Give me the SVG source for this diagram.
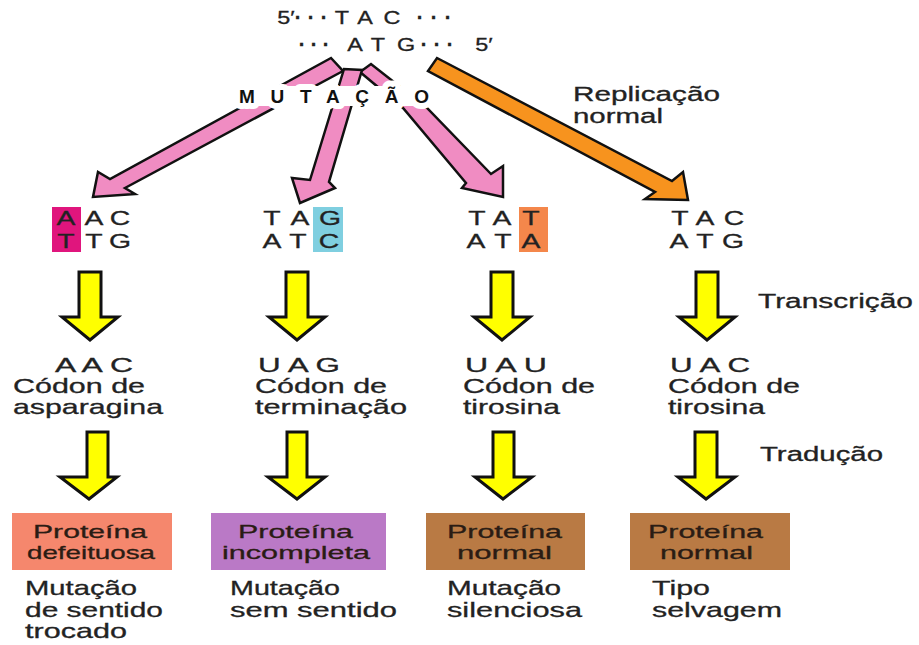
<svg xmlns="http://www.w3.org/2000/svg" width="919" height="645" viewBox="0 0 919 645">
<style>
text{font-family:"Liberation Sans",Arial,Helvetica,sans-serif;fill:#222;stroke:#222;stroke-width:0.3}
.top{font-size:18px;text-anchor:middle}
.dot{font-size:20px;font-weight:bold;text-anchor:middle}
.dna{font-size:21px;text-anchor:middle}
.cod{font-size:20px}
.lbl{font-size:21px}
.side{font-size:20px}
.bx{font-size:19px;fill:#2a1c14;stroke:#2a1c14}
.mut{font-size:19px;font-weight:bold;fill:#111;stroke:#fff;stroke-width:12;paint-order:stroke;stroke-linejoin:round}
.pink{fill:#f08cc2;stroke:#111;stroke-width:2.5;stroke-linejoin:miter}
.orange{fill:#f7931e;stroke:#111;stroke-width:2.5;stroke-linejoin:miter}
.yellow{fill:#ffff00;stroke:#111;stroke-width:3;stroke-linejoin:miter}
</style>
<rect width="919" height="645" fill="#fff"/>

<g id="connectors">
  <polygon class="pink" points="331,58 110,179 98,172 93,197 135,194 125,188 343,71"/>
  <polygon class="pink" points="360,72 403,108 466,183 462,188 503,197 503,166 491,174 427,108 371,64"/>
  <polygon class="pink" points="344,69 310,180 292,178 300,203 335,188 329,182 362,70"/>
  <polygon class="orange" points="437,58 672,181 683,172 688,200 645,199 655,192 428,71"/>
  <polygon class="yellow" points="79,272 101,272 101,317 118,317 90,340 62,317 79,317"/>
  <polygon class="yellow" points="286,272 308,272 308,317 325,317 297,340 269,317 286,317"/>
  <polygon class="yellow" points="491,272 513,272 513,317 530,317 502,340 474,317 491,317"/>
  <polygon class="yellow" points="696,272 718,272 718,317 735,317 707,340 679,317 696,317"/>
  <polygon class="yellow" points="87,432 108,432 108,477 117,477 89,499 60,477 87,477"/>
  <polygon class="yellow" points="287,432 307,432 307,477 325,477 297,499 268,477 287,477"/>
  <polygon class="yellow" points="493,432 514,432 514,477 532,477 503,499 475,477 493,477"/>
  <polygon class="yellow" points="695,432 717,432 717,477 735,477 706,499 678,477 695,477"/>
</g>

<g id="dna-original">
  <text class="top" transform="matrix(1.3 0 0 1 286 24)">5′</text>
  <text class="dot" x="298 311 324" y="24">···</text>
  <text class="top" transform="matrix(1.3 0 0 1 342 24)">T</text>
  <text class="top" transform="matrix(1.3 0 0 1 365 24)">A</text>
  <text class="top" transform="matrix(1.3 0 0 1 392 24)">C</text>
  <text class="dot" x="420 434 448" y="24">···</text>
  <text class="dot" x="302 314 326" y="51">···</text>
  <text class="top" transform="matrix(1.3 0 0 1 355 51)">A</text>
  <text class="top" transform="matrix(1.3 0 0 1 378 51)">T</text>
  <text class="top" transform="matrix(1.3 0 0 1 406 51)">G</text>
  <text class="dot" x="424 437 450" y="51">···</text>
  <text class="top" transform="matrix(1.3 0 0 1 484 51)">5′</text>
</g>

<g id="label-mutacao">
  <rect x="236" y="86" width="196" height="20" fill="#fff"/>
  <text class="mut" x="239" y="103" textLength="190" lengthAdjust="spacing">MUTAÇÃO</text>
</g>

<g id="label-replicacao">
  <text class="side" x="573" y="101" textLength="147" lengthAdjust="spacingAndGlyphs">Replicação</text>
  <text class="side" x="573" y="123" textLength="90" lengthAdjust="spacingAndGlyphs">normal</text>
</g>

<g id="dna-1">
  <rect x="52" y="207" width="29" height="45" fill="#e0157d"/>
  <text class="dna" transform="matrix(1.35 0 0 1 66 225)">A</text>
  <text class="dna" transform="matrix(1.35 0 0 1 94 225)">A</text>
  <text class="dna" transform="matrix(1.35 0 0 1 120 225)">C</text>
  <text class="dna" transform="matrix(1.35 0 0 1 66 248)">T</text>
  <text class="dna" transform="matrix(1.35 0 0 1 94 248)">T</text>
  <text class="dna" transform="matrix(1.35 0 0 1 120 248)">G</text>
</g>

<g id="dna-2">
  <rect x="313" y="207" width="30" height="45" fill="#7fcfe0"/>
  <text class="dna" transform="matrix(1.35 0 0 1 272 225)">T</text>
  <text class="dna" transform="matrix(1.35 0 0 1 300 225)">A</text>
  <text class="dna" transform="matrix(1.35 0 0 1 330 225)">G</text>
  <text class="dna" transform="matrix(1.35 0 0 1 272 248)">A</text>
  <text class="dna" transform="matrix(1.35 0 0 1 298 248)">T</text>
  <text class="dna" transform="matrix(1.35 0 0 1 329 248)">C</text>
</g>

<g id="dna-3">
  <rect x="519" y="207" width="29" height="45" fill="#f4874b"/>
  <text class="dna" transform="matrix(1.35 0 0 1 477 225)">T</text>
  <text class="dna" transform="matrix(1.35 0 0 1 502 225)">A</text>
  <text class="dna" transform="matrix(1.35 0 0 1 531 225)">T</text>
  <text class="dna" transform="matrix(1.35 0 0 1 476 248)">A</text>
  <text class="dna" transform="matrix(1.35 0 0 1 503 248)">T</text>
  <text class="dna" transform="matrix(1.35 0 0 1 531 248)">A</text>
</g>

<g id="dna-4">
  <text class="dna" transform="matrix(1.35 0 0 1 680 225)">T</text>
  <text class="dna" transform="matrix(1.35 0 0 1 705 225)">A</text>
  <text class="dna" transform="matrix(1.35 0 0 1 734 225)">C</text>
  <text class="dna" transform="matrix(1.35 0 0 1 679 248)">A</text>
  <text class="dna" transform="matrix(1.35 0 0 1 705 248)">T</text>
  <text class="dna" transform="matrix(1.35 0 0 1 733 248)">G</text>
</g>

<g id="label-transcricao">
  <text class="side" x="758" y="308" textLength="155" lengthAdjust="spacingAndGlyphs">Transcrição</text>
</g>

<g id="codon-1">
  <text class="cod" x="55" y="372" textLength="78" lengthAdjust="spacingAndGlyphs">A A C</text>
  <text class="lbl" x="13" y="393" textLength="132" lengthAdjust="spacingAndGlyphs">Códon de</text>
  <text class="lbl" x="13" y="414" textLength="150" lengthAdjust="spacingAndGlyphs">asparagina</text>
</g>
<g id="codon-2">
  <text class="cod" x="258" y="372" textLength="82" lengthAdjust="spacingAndGlyphs">U A G</text>
  <text class="lbl" x="255" y="393" textLength="132" lengthAdjust="spacingAndGlyphs">Códon de</text>
  <text class="lbl" x="255" y="414" textLength="152" lengthAdjust="spacingAndGlyphs">terminação</text>
</g>
<g id="codon-3">
  <text class="cod" x="465" y="372" textLength="82" lengthAdjust="spacingAndGlyphs">U A U</text>
  <text class="lbl" x="463" y="393" textLength="132" lengthAdjust="spacingAndGlyphs">Códon de</text>
  <text class="lbl" x="463" y="414" textLength="97" lengthAdjust="spacingAndGlyphs">tirosina</text>
</g>
<g id="codon-4">
  <text class="cod" x="670" y="372" textLength="80" lengthAdjust="spacingAndGlyphs">U A C</text>
  <text class="lbl" x="668" y="393" textLength="132" lengthAdjust="spacingAndGlyphs">Códon de</text>
  <text class="lbl" x="668" y="414" textLength="97" lengthAdjust="spacingAndGlyphs">tirosina</text>
</g>

<g id="label-traducao">
  <text class="side" x="760" y="461" textLength="123" lengthAdjust="spacingAndGlyphs">Tradução</text>
</g>

<g id="protein-1">
  <rect x="12" y="513" width="160" height="57" fill="#f5876d"/>
  <text class="bx" x="33" y="538" textLength="114" lengthAdjust="spacingAndGlyphs">Proteína</text>
  <text class="bx" x="27" y="559" textLength="128" lengthAdjust="spacingAndGlyphs">defeituosa</text>
</g>
<g id="protein-2">
  <rect x="211" y="513" width="175" height="57" fill="#ba79c6"/>
  <text class="bx" x="238" y="538" textLength="115" lengthAdjust="spacingAndGlyphs">Proteína</text>
  <text class="bx" x="222" y="559" textLength="148" lengthAdjust="spacingAndGlyphs">incompleta</text>
</g>
<g id="protein-3">
  <rect x="426" y="513" width="159" height="57" fill="#b97a44"/>
  <text class="bx" x="447" y="538" textLength="115" lengthAdjust="spacingAndGlyphs">Proteína</text>
  <text class="bx" x="457" y="559" textLength="95" lengthAdjust="spacingAndGlyphs">normal</text>
</g>
<g id="protein-4">
  <rect x="630" y="513" width="160" height="57" fill="#b97a44"/>
  <text class="bx" x="648" y="538" textLength="115" lengthAdjust="spacingAndGlyphs">Proteína</text>
  <text class="bx" x="660" y="559" textLength="93" lengthAdjust="spacingAndGlyphs">normal</text>
</g>

<g id="type-1">
  <text class="lbl" x="25" y="595" textLength="112" lengthAdjust="spacingAndGlyphs">Mutação</text>
  <text class="lbl" x="25" y="617" textLength="138" lengthAdjust="spacingAndGlyphs">de sentido</text>
  <text class="lbl" x="25" y="638" textLength="102" lengthAdjust="spacingAndGlyphs">trocado</text>
</g>
<g id="type-2">
  <text class="lbl" x="230" y="595" textLength="110" lengthAdjust="spacingAndGlyphs">Mutação</text>
  <text class="lbl" x="230" y="617" textLength="167" lengthAdjust="spacingAndGlyphs">sem sentido</text>
</g>
<g id="type-3">
  <text class="lbl" x="447" y="595" textLength="114" lengthAdjust="spacingAndGlyphs">Mutação</text>
  <text class="lbl" x="447" y="617" textLength="135" lengthAdjust="spacingAndGlyphs">silenciosa</text>
</g>
<g id="type-4">
  <text class="lbl" x="652" y="595" textLength="58" lengthAdjust="spacingAndGlyphs">Tipo</text>
  <text class="lbl" x="652" y="617" textLength="130" lengthAdjust="spacingAndGlyphs">selvagem</text>
</g>
</svg>
